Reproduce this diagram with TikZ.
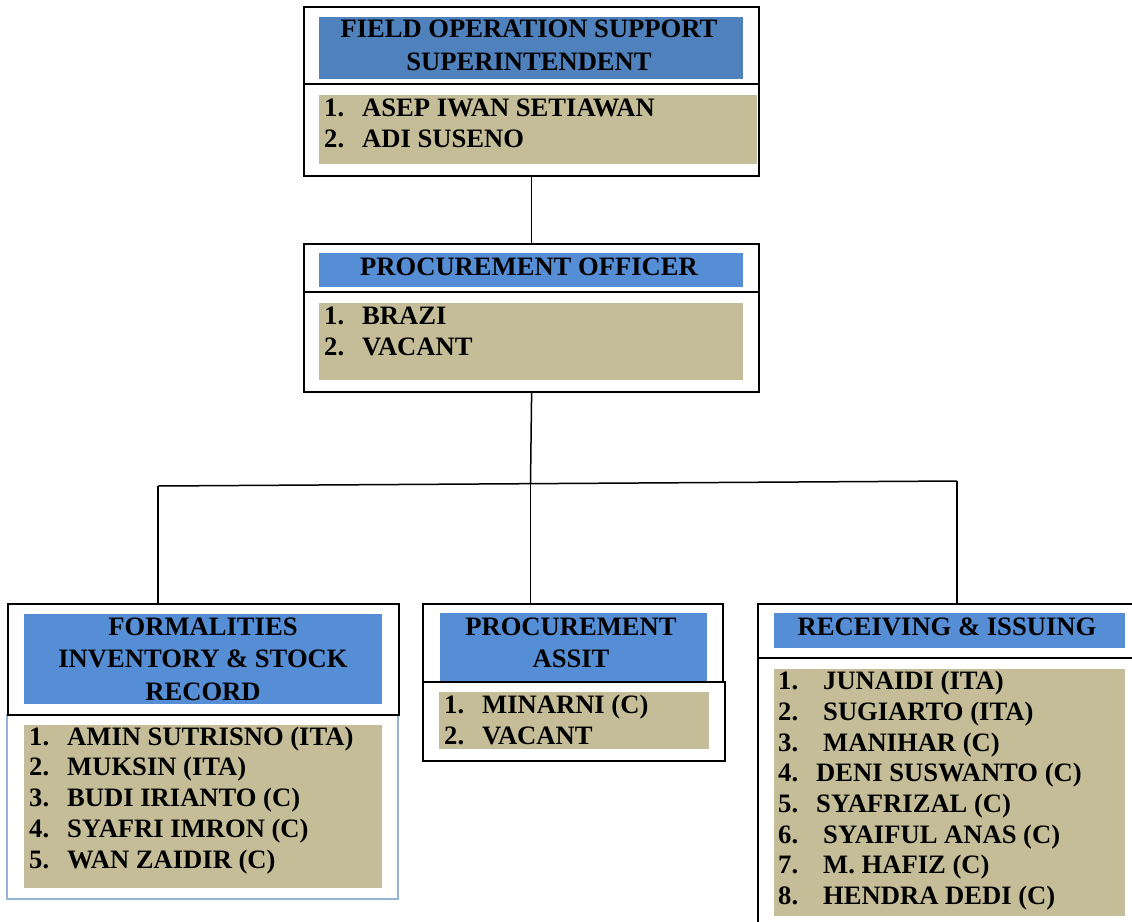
\documentclass[tikz,border=0pt]{standalone}
\usepackage{fontspec}
\setmainfont{Liberation Serif}
\definecolor{hdrblue}{HTML}{558ED5}
\definecolor{hdrblueA}{HTML}{4F81BD}
\definecolor{tan}{HTML}{C4BD97}
\definecolor{lightedge}{HTML}{95B3D7}
\tikzset{
  outerbox/.style={draw=black, line width=2.2pt, rectangle, inner sep=0pt, anchor=north west},
  txt/.style={font=\fontsize{26.6}{30}\selectfont\bfseries, inner sep=0pt, text=black},
  conn/.style={draw=black, line width=1.5pt},
}
\begin{document}
\begin{tikzpicture}[x=1pt,y=-1pt]
\useasboundingbox (0,0) rectangle (1132,921);
\clip (0,0) rectangle (1132,921);
% ---------- Box 1 : Field Operation Support Superintendent
\fill[hdrblueA] (319,17) rectangle (743,79);
\fill[tan] (319,95) rectangle (757,164);
\node[outerbox, minimum width=455pt, minimum height=169pt] (fos) at (303,6) {};
\draw[line width=2.2pt] (303,84) -- (758,84);
\node[txt, anchor=base] (fosh1) at (529,37) {FIELD OPERATION SUPPORT};
\node[txt, anchor=base] (fosh2) at (529,70) {SUPERINTENDENT};
\node[txt, anchor=base west] (fosn1) at (324,116) {1.};
\node[txt, anchor=base west] (fosa1) at (362,116) {ASEP IWAN SETIAWAN};
\node[txt, anchor=base west] (fosn2) at (324,147) {2.};
\node[txt, anchor=base west] (fosa2) at (362,147) {ADI SUSENO};
% ---------- Box 2 : Procurement Officer
\fill[hdrblue] (319,253) rectangle (743,287);
\fill[tan] (319,303) rectangle (743,380);
\node[outerbox, minimum width=455pt, minimum height=148pt] (po) at (303,243) {};
\draw[line width=2.2pt] (303,292) -- (758,292);
\node[txt, anchor=base] (poh) at (529,275) {PROCUREMENT OFFICER};
\node[txt, anchor=base west] (pon1) at (324,324) {1.};
\node[txt, anchor=base west] (poa1) at (362,324) {BRAZI};
\node[txt, anchor=base west] (pon2) at (324,355) {2.};
\node[txt, anchor=base west] (poa2) at (362,355) {VACANT};
% ---------- Box 3 : Formalities
\fill[hdrblue] (24,614) rectangle (382,704);
\fill[tan] (24,725) rectangle (382,888);
\draw[draw=lightedge, line width=2pt] (7,714) -- (7,899) -- (398,899) -- (398,714);
\node[outerbox, minimum width=391pt, minimum height=111pt] (fir) at (7,603) {};
\node[txt, anchor=base] (firh1) at (203,635) {FORMALITIES};
\node[txt, anchor=base] (firh2) at (203,667) {INVENTORY \& STOCK};
\node[txt, anchor=base] (firh3) at (203,700) {RECORD};
\node[txt, anchor=base west] (firn1) at (29,745) {1.};
\node[txt, anchor=base west] (fira1) at (67,745) {AMIN SUTRISNO (ITA)};
\node[txt, anchor=base west] (firn2) at (29,775) {2.};
\node[txt, anchor=base west] (fira2) at (67,775) {MUKSIN (ITA)};
\node[txt, anchor=base west] (firn3) at (29,806) {3.};
\node[txt, anchor=base west] (fira3) at (67,806) {BUDI IRIANTO (C)};
\node[txt, anchor=base west] (firn4) at (29,837) {4.};
\node[txt, anchor=base west] (fira4) at (67,837) {SYAFRI IMRON (C)};
\node[txt, anchor=base west] (firn5) at (29,868) {5.};
\node[txt, anchor=base west] (fira5) at (67,868) {WAN ZAIDIR (C)};
% ---------- Box 4 : Procurement Assit
\fill[hdrblue] (440,613) rectangle (707,681);
\fill[tan] (439,692) rectangle (709,749);
\node[outerbox, minimum width=300pt, minimum height=78pt] (pa) at (422,603) {};
\node[outerbox, minimum width=302pt, minimum height=79pt] (pal) at (422,681) {};
\node[txt, anchor=base] (pah1) at (571,635) {PROCUREMENT};
\node[txt, anchor=base] (pah2) at (571,667) {ASSIT};
\node[txt, anchor=base west] (pan1) at (444,713) {1.};
\node[txt, anchor=base west] (paa1) at (482,713) {MINARNI (C)};
\node[txt, anchor=base west] (pan2) at (444,744) {2.};
\node[txt, anchor=base west] (paa2) at (482,744) {VACANT};
% ---------- Box 5 : Receiving & Issuing
\fill[hdrblue] (774,613) rectangle (1125,648);
\fill[tan] (774,669) rectangle (1125,916);
\node[outerbox, minimum width=400pt, minimum height=340pt] (ri) at (757,603) {};
\draw[line width=2.2pt] (757,658) -- (1140,658);
\node[txt, anchor=base] (rih) at (947,635) {RECEIVING \& ISSUING};
\node[txt, anchor=base west] (rin1) at (778,689) {1.};
\node[txt, anchor=base west] (ria1) at (823,689) {JUNAIDI (ITA)};
\node[txt, anchor=base west] (rin2) at (778,720) {2.};
\node[txt, anchor=base west] (ria2) at (823,720) {SUGIARTO (ITA)};
\node[txt, anchor=base west] (rin3) at (778,751) {3.};
\node[txt, anchor=base west] (ria3) at (823,751) {MANIHAR (C)};
\node[txt, anchor=base west] (rin4) at (778,781) {4.};
\node[txt, anchor=base west] (ria4) at (816,781) {DENI SUSWANTO (C)};
\node[txt, anchor=base west] (rin5) at (778,812) {5.};
\node[txt, anchor=base west] (ria5) at (816,812) {SYAFRIZAL (C)};
\node[txt, anchor=base west] (rin6) at (778,843) {6.};
\node[txt, anchor=base west] (ria6) at (823,843) {SYAIFUL ANAS (C)};
\node[txt, anchor=base west] (rin7) at (778,873) {7.};
\node[txt, anchor=base west] (ria7) at (823,873) {M. HAFIZ (C)};
\node[txt, anchor=base west] (rin8) at (778,904) {8.};
\node[txt, anchor=base west] (ria8) at (823,904) {HENDRA DEDI (C)};
% ---------- Connectors
\coordinate (jm) at (530.5,483.5);
\coordinate (jl) at (158,486);
\coordinate (jr) at (957,481);
\draw[conn] (fos.south) -- (po.north);
\draw[conn] (po.south) -- (jm);
\draw[conn] (jl) -- (jr);
\draw[conn] (jl) -- (jl |- fir.north);
\draw[conn] (jm) -- (jm |- pa.north);
\draw[conn] (jr) -- (jr |- ri.north);
\end{tikzpicture}
\end{document}
